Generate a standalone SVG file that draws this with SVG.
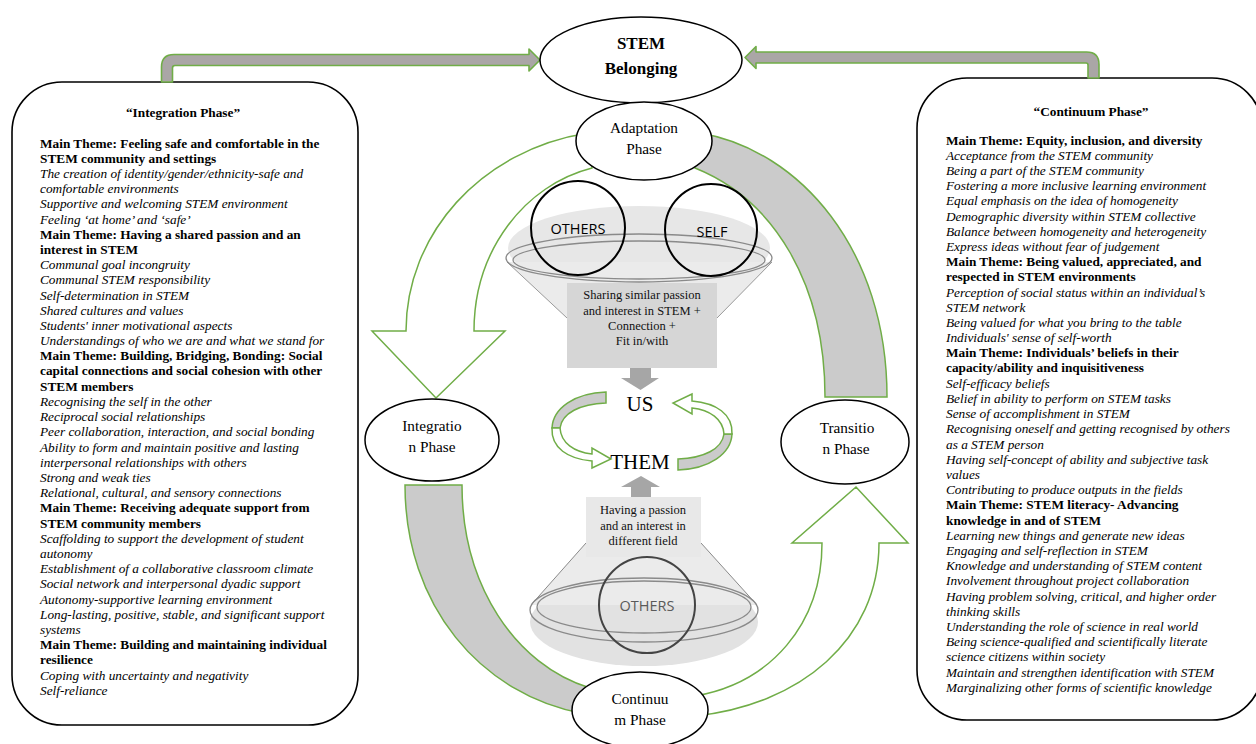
<svg xmlns="http://www.w3.org/2000/svg" width="1256" height="744" viewBox="0 0 1256 744">
<style>
.t{font-family:"Liberation Serif","Times New Roman",serif;font-size:13.3px;fill:#000}
.b{font-weight:bold}
.i{font-style:italic}
.lbl{font-family:"Liberation Serif","Times New Roman",serif;font-size:15.3px;fill:#000;text-anchor:middle}
.box{font-family:"Liberation Serif","Times New Roman",serif;font-size:12.5px;fill:#111;text-anchor:middle}
.sans{font-family:"Open Sans","Liberation Sans",sans-serif;font-size:14.5px;text-anchor:middle}
.ph{fill:#fff;stroke:#000;stroke-width:1.5}
.panel{fill:#fff;stroke:#000;stroke-width:1.6}
.conn{fill:#aaa6a6;stroke:#70ad47;stroke-width:1.6;stroke-linejoin:round}
.wa{fill:#fff;stroke:#70ad47;stroke-width:1.5;stroke-linejoin:miter}
.ga{fill:#cbcbcb;stroke:#70ad47;stroke-width:1.5}
.rim{fill:none;stroke:#8a8a8a;stroke-width:1.3}
</style>

<g id="panel-integration">
<rect class="panel" x="12" y="82" width="346" height="643" rx="50" ry="50"/>
<text class="t b" x="183" y="117" text-anchor="middle">“Integration Phase”</text>
<text class="t" y="147.5">
<tspan class="b" x="40">Main Theme: Feeling safe and comfortable in the</tspan>
<tspan class="b" x="40" dy="15.2">STEM community and settings</tspan>
<tspan class="i" x="40" dy="15.2">The creation of identity/gender/ethnicity-safe and</tspan>
<tspan class="i" x="40" dy="15.2">comfortable environments</tspan>
<tspan class="i" x="40" dy="15.2">Supportive and welcoming STEM environment</tspan>
<tspan class="i" x="40" dy="15.2">Feeling ‘at home’ and ‘safe’</tspan>
<tspan class="b" x="40" dy="15.2">Main Theme: Having a shared passion and an</tspan>
<tspan class="b" x="40" dy="15.2">interest in STEM</tspan>
<tspan class="i" x="40" dy="15.2">Communal goal incongruity</tspan>
<tspan class="i" x="40" dy="15.2">Communal STEM responsibility</tspan>
<tspan class="i" x="40" dy="15.2">Self-determination in STEM</tspan>
<tspan class="i" x="40" dy="15.2">Shared cultures and values</tspan>
<tspan class="i" x="40" dy="15.2">Students' inner motivational aspects</tspan>
<tspan class="i" x="40" dy="15.2">Understandings of who we are and what we stand for</tspan>
<tspan class="b" x="40" dy="15.2">Main Theme: Building, Bridging, Bonding: Social</tspan>
<tspan class="b" x="40" dy="15.2">capital connections and social cohesion with other</tspan>
<tspan class="b" x="40" dy="15.2">STEM members</tspan>
<tspan class="i" x="40" dy="15.2">Recognising the self in the other</tspan>
<tspan class="i" x="40" dy="15.2">Reciprocal social relationships</tspan>
<tspan class="i" x="40" dy="15.2">Peer collaboration, interaction, and social bonding</tspan>
<tspan class="i" x="40" dy="15.2">Ability to form and maintain positive and lasting</tspan>
<tspan class="i" x="40" dy="15.2">interpersonal relationships with others</tspan>
<tspan class="i" x="40" dy="15.2">Strong and weak ties</tspan>
<tspan class="i" x="40" dy="15.2">Relational, cultural, and sensory connections</tspan>
<tspan class="b" x="40" dy="15.2">Main Theme: Receiving adequate support from</tspan>
<tspan class="b" x="40" dy="15.2">STEM community members</tspan>
<tspan class="i" x="40" dy="15.2">Scaffolding to support the development of student</tspan>
<tspan class="i" x="40" dy="15.2">autonomy</tspan>
<tspan class="i" x="40" dy="15.2">Establishment of a collaborative classroom climate</tspan>
<tspan class="i" x="40" dy="15.2">Social network and interpersonal dyadic support</tspan>
<tspan class="i" x="40" dy="15.2">Autonomy-supportive learning environment</tspan>
<tspan class="i" x="40" dy="15.2">Long-lasting, positive, stable, and significant support</tspan>
<tspan class="i" x="40" dy="15.2">systems</tspan>
<tspan class="b" x="40" dy="15.2">Main Theme: Building and maintaining individual</tspan>
<tspan class="b" x="40" dy="15.2">resilience</tspan>
<tspan class="i" x="40" dy="15.2">Coping with uncertainty and negativity</tspan>
<tspan class="i" x="40" dy="15.2">Self-reliance</tspan>
</text>
</g>

<g id="panel-continuum">
<rect class="panel" x="917" y="78" width="345" height="642" rx="50" ry="50"/>
<text class="t b" x="1091" y="116" text-anchor="middle">“Continuum Phase”</text>
<text class="t" y="144.5">
<tspan class="b" x="946">Main Theme: Equity, inclusion, and diversity</tspan>
<tspan class="i" x="946" dy="15.2">Acceptance from the STEM community</tspan>
<tspan class="i" x="946" dy="15.2">Being a part of the STEM community</tspan>
<tspan class="i" x="946" dy="15.2">Fostering a more inclusive learning environment</tspan>
<tspan class="i" x="946" dy="15.2">Equal emphasis on the idea of homogeneity</tspan>
<tspan class="i" x="946" dy="15.2">Demographic diversity within STEM collective</tspan>
<tspan class="i" x="946" dy="15.2">Balance between homogeneity and heterogeneity</tspan>
<tspan class="i" x="946" dy="15.2">Express ideas without fear of judgement</tspan>
<tspan class="b" x="946" dy="15.2">Main Theme: Being valued, appreciated, and</tspan>
<tspan class="b" x="946" dy="15.2">respected in STEM environments</tspan>
<tspan class="i" x="946" dy="15.2">Perception of social status within an individual’s</tspan>
<tspan class="i" x="946" dy="15.2">STEM network</tspan>
<tspan class="i" x="946" dy="15.2">Being valued for what you bring to the table</tspan>
<tspan class="i" x="946" dy="15.2">Individuals' sense of self-worth</tspan>
<tspan class="b" x="946" dy="15.2">Main Theme: Individuals’ beliefs in their</tspan>
<tspan class="b" x="946" dy="15.2">capacity/ability and inquisitiveness</tspan>
<tspan class="i" x="946" dy="15.2">Self-efficacy beliefs</tspan>
<tspan class="i" x="946" dy="15.2">Belief in ability to perform on STEM tasks</tspan>
<tspan class="i" x="946" dy="15.2">Sense of accomplishment in STEM</tspan>
<tspan class="i" x="946" dy="15.2">Recognising oneself and getting recognised by others</tspan>
<tspan class="i" x="946" dy="15.2">as a STEM person</tspan>
<tspan class="i" x="946" dy="15.2">Having self-concept of ability and subjective task</tspan>
<tspan class="i" x="946" dy="15.2">values</tspan>
<tspan class="i" x="946" dy="15.2">Contributing to produce outputs in the fields</tspan>
<tspan class="b" x="946" dy="15.2">Main Theme: STEM literacy- Advancing</tspan>
<tspan class="b" x="946" dy="15.2">knowledge in and of STEM</tspan>
<tspan class="i" x="946" dy="15.2">Learning new things and generate new ideas</tspan>
<tspan class="i" x="946" dy="15.2">Engaging and self-reflection in STEM</tspan>
<tspan class="i" x="946" dy="15.2">Knowledge and understanding of STEM content</tspan>
<tspan class="i" x="946" dy="15.2">Involvement throughout project collaboration</tspan>
<tspan class="i" x="946" dy="15.2">Having problem solving, critical, and higher order</tspan>
<tspan class="i" x="946" dy="15.2">thinking skills</tspan>
<tspan class="i" x="946" dy="15.2">Understanding the role of science in real world</tspan>
<tspan class="i" x="946" dy="15.2">Being science-qualified and scientifically literate</tspan>
<tspan class="i" x="946" dy="15.2">science citizens within society</tspan>
<tspan class="i" x="946" dy="15.2">Maintain and strengthen identification with STEM</tspan>
<tspan class="i" x="946" dy="15.2">Marginalizing other forms of scientific knowledge</tspan>
</text>
</g>

<g id="connectors">
<path class="conn" d="M161.5,82 L161.5,67 Q161.5,54.5 174,54.5 L529,54.5 L529,49 L540,60 L529,71 L529,65.5 L175,65.5 Q172.5,65.5 172.5,68 L172.5,82 Z"/>
<path class="conn" d="M1099,78 L1099,64.5 Q1099,52 1086.5,52 L756,52 L756,46.5 L745,57.5 L756,68.5 L756,63 L1086,63 Q1088,63 1088,65 L1088,78 Z"/>
<path class="wa" d="M406,331 C406,235 480,150 588,133 L592,168 C525,185 474,250 474,331 L505,331 L436,398 L372,331 Z"/>
<path class="ga" d="M700,133 C800,150 887,250 887,397 L825,397 C825,285 775,200 695,168 Z"/>
<path class="ga" d="M405,485 L462,485 C462,585 515,665 590,688 L585,714 C480,695 405,605 405,485 Z"/>
<path class="wa" d="M822,543 L792,543 L856,487 L908,543 L879,543 C879,640 800,705 695,716 L695,696 C770,683 822,625 822,543 Z"/>
</g>

<g id="funnel-top">
<ellipse cx="639" cy="248" rx="131" ry="42" fill="#e7e7e7"/>
<path d="M507,262 L567,318 L717,318 L772,262 Z" fill="#ebebeb"/>
<path d="M507,262 L567,318 M772,262 L717,318" stroke="#999" stroke-width="1" fill="none"/>
<ellipse class="rim" cx="639" cy="258" rx="133" ry="24"/>
<ellipse class="rim" cx="639" cy="260" rx="126" ry="19"/>
<rect x="567" y="283" width="150" height="85" fill="#d6d6d6"/>
<text class="box" x="642" y="299">Sharing similar passion</text>
<text class="box" x="642" y="314.5">and interest in STEM +</text>
<text class="box" x="642" y="330">Connection +</text>
<text class="box" x="642" y="345">Fit in/with</text>
<path d="M630,368 L651,368 L651,378 L659,378 L640.5,390 L621,378 L630,378 Z" fill="#a6a6a6"/>
</g>

<g id="others-top">
<circle cx="578" cy="228" r="47" fill="none" stroke="#000" stroke-width="2"/>
<text class="sans" x="578" y="234" fill="#000">OTHERS</text>
</g>
<g id="self-top">
<circle cx="711" cy="230" r="46" fill="none" stroke="#000" stroke-width="2"/>
<text class="sans" x="712" y="237" fill="#000">SELF</text>
</g>

<g id="funnel-bottom">
<ellipse cx="644" cy="622" rx="114" ry="44" fill="#e2e2e2"/>
<path d="M586,543 L531,605 L757,605 L701,543 Z" fill="#ebebeb"/>
<path d="M586,543 L531,605 M701,543 L757,605" stroke="#8a8a8a" stroke-width="1" fill="none"/>
<ellipse class="rim" cx="644" cy="610" rx="114" ry="32" stroke="#777"/>
<ellipse class="rim" cx="644" cy="607" rx="107" ry="26" stroke="#777"/>
<rect x="586" y="497" width="115" height="60" fill="#e8e8e8"/>
<text class="box" x="643" y="514">Having a passion</text>
<text class="box" x="643" y="529.5">and an interest in</text>
<text class="box" x="643" y="545">different field</text>
<path d="M631,497 L651,497 L651,487 L660,487 L641,476 L621,487 L631,487 Z" fill="#a6a6a6"/>
</g>
<g id="others-bottom">
<circle cx="647" cy="605" r="48" fill="none" stroke="#444" stroke-width="2"/>
<text class="sans" x="647" y="611" fill="#5a5a5a">OTHERS</text>
</g>

<g id="us-them">
<path class="ga" d="M606,392 C575,393 553,408 552,428 L560,428 C562,413 580,404 606,403 Z"/>
<path class="wa" d="M552,428 C551,448 568,459 592,461 L592,468 L611,459 L592,448 L592,454 C574,452 561,443 560,428 Z"/>
<g transform="rotate(180 642 431)">
<path class="ga" d="M606,392 C575,393 553,408 552,428 L560,428 C562,413 580,404 606,403 Z"/>
<path class="wa" d="M552,428 C551,448 568,459 592,461 L592,468 L611,459 L592,448 L592,454 C574,452 561,443 560,428 Z"/>
</g>
<text x="640" y="411" font-family="Liberation Serif, Times New Roman, serif" font-size="21" text-anchor="middle">US</text>
<text x="640" y="469" font-family="Liberation Serif, Times New Roman, serif" font-size="21" text-anchor="middle">THEM</text>
</g>

<g id="stem-belonging">
<ellipse class="ph" cx="641" cy="60" rx="101" ry="43"/>
<text x="641" y="49" font-family="Liberation Serif, Times New Roman, serif" font-size="17" font-weight="bold" text-anchor="middle">STEM</text>
<text x="641" y="74" font-family="Liberation Serif, Times New Roman, serif" font-size="17" font-weight="bold" text-anchor="middle">Belonging</text>
</g>

<g id="adaptation">
<ellipse class="ph" cx="644" cy="141" rx="68" ry="39"/>
<text class="lbl" x="644" y="133">Adaptation</text>
<text class="lbl" x="644" y="154">Phase</text>
</g>

<g id="integration">
<ellipse class="ph" cx="432" cy="440" rx="67" ry="41"/>
<text class="lbl" x="432" y="431">Integratio</text>
<text class="lbl" x="432" y="452">n Phase</text>
</g>

<g id="transition">
<ellipse class="ph" cx="845" cy="442" rx="64" ry="42"/>
<text class="lbl" x="847" y="433">Transitio</text>
<text class="lbl" x="846" y="454">n Phase</text>
</g>

<g id="continuum">
<ellipse class="ph" cx="640" cy="710" rx="68" ry="38"/>
<text class="lbl" x="640" y="704">Continuu</text>
<text class="lbl" x="640" y="725">m Phase</text>
</g>
</svg>
